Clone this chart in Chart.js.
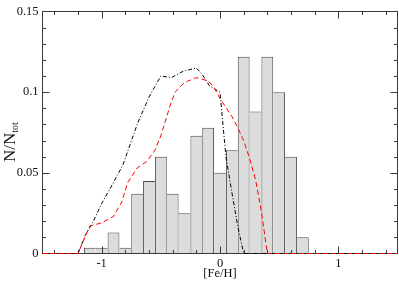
<!DOCTYPE html>
<html>
<head>
<meta charset="utf-8">
<title>[Fe/H] distribution</title>
<script src="https://cdn.jsdelivr.net/npm/chart.js@4.4.1/dist/chart.umd.min.js"></script>
<style>
  html, body { margin: 0; padding: 0; background: #fff; }
  #wrap { width: 399px; height: 281px; }
</style>
</head>
<body>
<div id="wrap"><canvas id="mdfChart" width="399" height="281"></canvas></div>
<script>
// histogram, bins of 0.1 dex
const binCenters = [-1.1, -1.0, -0.9, -0.8, -0.7, -0.6, -0.5, -0.4, -0.3, -0.2, -0.1, 0.0, 0.1, 0.2, 0.3, 0.4, 0.5, 0.6, 0.7];
const binFractions = [0.0035, 0.0035, 0.013, 0.0035, 0.037, 0.045, 0.060, 0.037, 0.025, 0.073, 0.078, 0.050, 0.064, 0.122, 0.088, 0.122, 0.100, 0.060, 0.010];

// black dash-dot curve
const dashDotFeH = [-1.5, -1.2, -1.14, -1.07, -1.0, -0.9, -0.82, -0.7, -0.6, -0.5, -0.41, -0.31, -0.2, -0.15, -0.09, 0.0, 0.05, 0.1, 0.15, 0.2, 1.5];
const dashDotFrac = [0, 0, 0.011, 0.020, 0.031, 0.044, 0.055, 0.080, 0.097, 0.110, 0.109, 0.113, 0.115, 0.111, 0.104, 0.100, 0.060, 0.038, 0.017, 0, 0];

// red dashed curve
const dashedFeH = [-1.5, -1.2, -1.1, -1.0, -0.9, -0.83, -0.78, -0.7, -0.62, -0.55, -0.5, -0.42, -0.38, -0.3, -0.2, -0.1, -0.05, 0.0, 0.1, 0.15, 0.2, 0.25, 0.3, 0.35, 0.4, 1.5];
const dashedFrac = [0, 0, 0.017, 0.019, 0.023, 0.032, 0.044, 0.053, 0.057, 0.064, 0.073, 0.092, 0.100, 0.106, 0.109, 0.107, 0.103, 0.096, 0.085, 0.078, 0.070, 0.059, 0.046, 0.026, 0, 0];

const xMajorTicks = [-1, 0, 1];
const yMajorTicks = [0, 0.05, 0.1, 0.15];

const serif = '"Liberation Serif", "DejaVu Serif", serif';
const axisColor = '#3a3a3a';

// only draw a bar side when this bar is the taller one, so shared edges are single lines
function barSides(ctx) {
    const i = ctx.dataIndex;
    const v = binFractions[i];
    const prev = i > 0 ? binFractions[i - 1] : -1;
    const next = i < binFractions.length - 1 ? binFractions[i + 1] : -1;
    return { top: 1, bottom: 0, left: prev < v ? 1 : 0, right: next < v ? 1 : 0 };
}

// frame + inward ticks on all four sides, drawn right after the bars
const frameAndTicks = {
    id: 'frameAndTicks',
    afterDatasetDraw(chart, args) {
        if (args.meta.type !== 'bar') return;
        const { ctx, chartArea: a, scales: { x, y } } = chart;
        ctx.save();
        ctx.strokeStyle = axisColor;
        ctx.lineWidth = 1;
        ctx.strokeRect(a.left, a.top, a.right - a.left, a.bottom - a.top);
        ctx.beginPath();
        for (let k = -7; k <= 7; k++) {
            if (k % 5 === 0) continue;
            const px = Math.round(x.getPixelForValue(k * 0.2)) + 0.5;
            ctx.moveTo(px, a.bottom); ctx.lineTo(px, a.bottom - 3.5);
            ctx.moveTo(px, a.top); ctx.lineTo(px, a.top + 3.5);
        }
        xMajorTicks.forEach(v => {
            const px = Math.round(x.getPixelForValue(v)) + 0.5;
            ctx.moveTo(px, a.bottom); ctx.lineTo(px, a.bottom - 7);
            ctx.moveTo(px, a.top); ctx.lineTo(px, a.top + 7);
        });
        for (let k = 1; k < 15; k++) {
            const py = Math.round(y.getPixelForValue(k * 0.01)) + 0.5;
            const len = k % 5 === 0 ? 7 : 3.5;
            ctx.moveTo(a.left, py); ctx.lineTo(a.left + len, py);
            ctx.moveTo(a.right, py); ctx.lineTo(a.right - len, py);
        }
        ctx.stroke();
        ctx.restore();
    }
};

// N/N_tot with a real subscript
const yTitle = {
    id: 'yTitle',
    afterDraw(chart) {
        const ctx = chart.ctx;
        ctx.save();
        ctx.translate(15, 162);
        ctx.rotate(-Math.PI / 2);
        ctx.fillStyle = '#111';
        ctx.textBaseline = 'alphabetic';
        ctx.font = '17px ' + serif;
        ctx.fillText('N/N', 0, 0);
        const w = ctx.measureText('N/N').width;
        ctx.font = '10px ' + serif;
        ctx.fillText('tot', w, 3);
        ctx.restore();
    }
};

new Chart(document.getElementById('mdfChart'), {
    type: 'bar',
    data: {
        datasets: [{
            type: 'line',
            order: 1,
            clip: false,
            data: dashedFeH.map((v, i) => ({ x: v, y: dashedFrac[i] })),
            borderColor: '#ff0000',
            borderWidth: 1,
            borderDash: [5, 3],
            pointRadius: 0,
            tension: 0,
            fill: false
        }, {
            type: 'line',
            order: 1,
            clip: false,
            data: dashDotFeH.map((v, i) => ({ x: v, y: dashDotFrac[i] })),
            borderColor: '#000',
            borderWidth: 1,
            borderDash: [4, 2, 1, 2],
            pointRadius: 0,
            tension: 0,
            fill: false
        }, {
            type: 'bar',
            order: 2,
            data: binCenters.map((v, i) => ({ x: v, y: binFractions[i] })),
            backgroundColor: '#dcdcdc',
            borderColor: '#4a4a4a',
            borderWidth: barSides,
            borderSkipped: 'start',
            inflateAmount: 0,
            barPercentage: 1,
            categoryPercentage: 1
        }]
    },
    options: {
        responsive: false,
        animation: false,
        events: [],
        layout: { padding: { left: 0, top: 4.5, right: 1.5, bottom: 0 } },
        plugins: { legend: { display: false }, tooltip: { enabled: false } },
        scales: {
            x: {
                type: 'linear',
                min: -1.5,
                max: 1.5,
                offset: false,
                grid: { display: false, drawTicks: false, offset: false },
                border: { display: false },
                afterBuildTicks: s => { s.ticks = xMajorTicks.map(v => ({ value: v })); },
                afterFit: s => { s.height = 27.5; },
                ticks: {
                    padding: 3,
                    maxRotation: 0,
                    color: '#111',
                    font: { family: serif, size: 12.5 },
                    callback: v => String(v)
                },
                title: {
                    display: true,
                    text: '[Fe/H]',
                    color: '#111',
                    font: { family: serif, size: 12.5 },
                    padding: { top: 0, bottom: 0 }
                }
            },
            y: {
                min: 0,
                max: 0.15,
                grid: { display: false, drawTicks: false },
                border: { display: false },
                afterBuildTicks: s => { s.ticks = yMajorTicks.map(v => ({ value: v })); },
                afterFit: s => { s.width = 42.5; },
                ticks: {
                    padding: 4,
                    color: '#111',
                    font: { family: serif, size: 12.5 },
                    callback: v => String(+v.toFixed(2))
                }
            }
        }
    },
    plugins: [frameAndTicks, yTitle]
});
</script>
</body>
</html>
